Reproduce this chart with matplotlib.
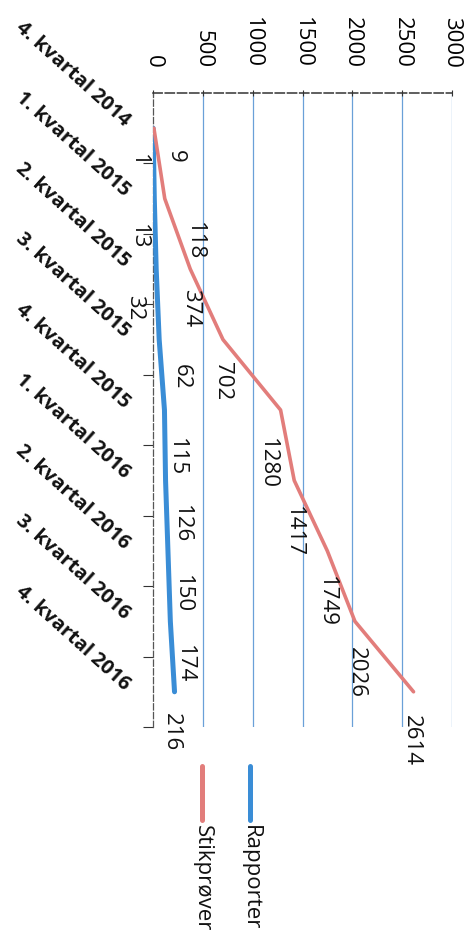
import matplotlib
matplotlib.use("Agg")
import matplotlib.pyplot as plt
from matplotlib.lines import Line2D

plt.rcParams['font.family'] = ['Open Sans', 'DejaVu Sans']

# ---------------- data ----------------
kvartaler = ['4. kvartal 2014', '1. kvartal 2015', '2. kvartal 2015', '3. kvartal 2015',
             '4. kvartal 2015', '1. kvartal 2016', '2. kvartal 2016', '3. kvartal 2016',
             '4. kvartal 2016']
rapporter = [1, 13, 32, 62, 115, 126, 150, 174, 216]
stikprover = [9, 118, 374, 702, 1280, 1417, 1749, 2026, 2614]
verdi_ticks = [0, 500, 1000, 1500, 2000, 2500, 3000]

# label offsets in pixels (dx right, dy down) as placed in the scan
off_stikk = [(21, 28), (30, 42), (0, 39), (0, 42), (-13, 53), (-1, 51), (-1, 51), (1, 51), (-2, 49)]
off_rapp = [(-15, 32), (-16, 38), (-22, 39), (22, 37), (12, 47), (16, 44), (14, 43), (14, 43), (-3, 40)]

BLUE = '#3a8dd6'
RED = '#e27d7b'
W, H = 473, 939

fig = plt.figure(figsize=(W / 100, H / 100), dpi=100)
# chart is rotated 90 deg clockwise: values run left->right, quarters top->bottom
ax = fig.add_axes([153 / W, 1 - 727 / H, 299 / W, 634 / H])

idx = list(range(len(kvartaler)))
ax.plot(rapporter, idx, color=BLUE, lw=3.6, solid_capstyle='round', zorder=3)
ax.plot(stikprover, idx, color=RED, lw=2.6, solid_capstyle='round', zorder=3)

ax.set_xlim(0, 3000)
ax.set_ylim(len(kvartaler) - 0.5, -0.5)

# grid / axes
ax.set_xticks(verdi_ticks)
ax.xaxis.tick_top()
ax.set_xticklabels([str(v) for v in verdi_ticks], rotation=270, fontsize=16)
ax.tick_params(axis='x', length=4, direction='inout', pad=16, color='#333333')
for v in verdi_ticks[1:]:
    ax.axvline(v, color='#6aa0d8', lw=0.9, zorder=1)

ax.set_yticks([])
ax.set_yticks([i + 0.5 for i in idx], minor=True)
ax.tick_params(axis='y', which='minor', length=7, direction='out', color='#333333', width=0.8)

for s in ['right', 'bottom']:
    ax.spines[s].set_visible(False)
ax.spines['top'].set_color('#333333')
ax.spines['top'].set_linestyle((0, (6, 2)))
ax.spines['top'].set_linewidth(1.1)
ax.spines['left'].set_color('#555555')
ax.spines['left'].set_linestyle((0, (5, 2)))
ax.spines['left'].set_linewidth(0.9)

# quarter labels
for i, k in enumerate(kvartaler):
    ax.annotate(k, xy=(0, i), xytext=(-26, 5), textcoords='offset pixels',
                rotation=-42, ha='right', va='center', rotation_mode='anchor',
                fontsize=14.5, fontweight='bold', color='#111111')

# data labels
for i, v in enumerate(stikprover):
    dx, dy = off_stikk[i]
    ax.annotate(str(v), xy=(v, i), xytext=(dx, -dy), textcoords='offset pixels',
                rotation=270, ha='center', va='center', fontsize=16, color='#111111')
for i, v in enumerate(rapporter):
    dx, dy = off_rapp[i]
    ax.annotate(str(v), xy=(v, i), xytext=(dx, -dy), textcoords='offset pixels',
                rotation=270, ha='center', va='center', fontsize=16, color='#111111')

# legend (rotated)
def fx(x):
    return x / W

def fy(y):
    return 1 - y / H

for x, c, navn in [(250, BLUE, 'Rapporter'), (202, RED, 'Stikprøver')]:
    fig.add_artist(Line2D([fx(x), fx(x)], [fy(766), fy(820)], color=c, lw=3.6,
                          solid_capstyle='round', transform=fig.transFigure))
    fig.text(fx(x), fy(825), navn, rotation=270, ha='center', va='top',
             fontsize=16, color='#111111')

fig.savefig('out.png', dpi=100, facecolor='white')
